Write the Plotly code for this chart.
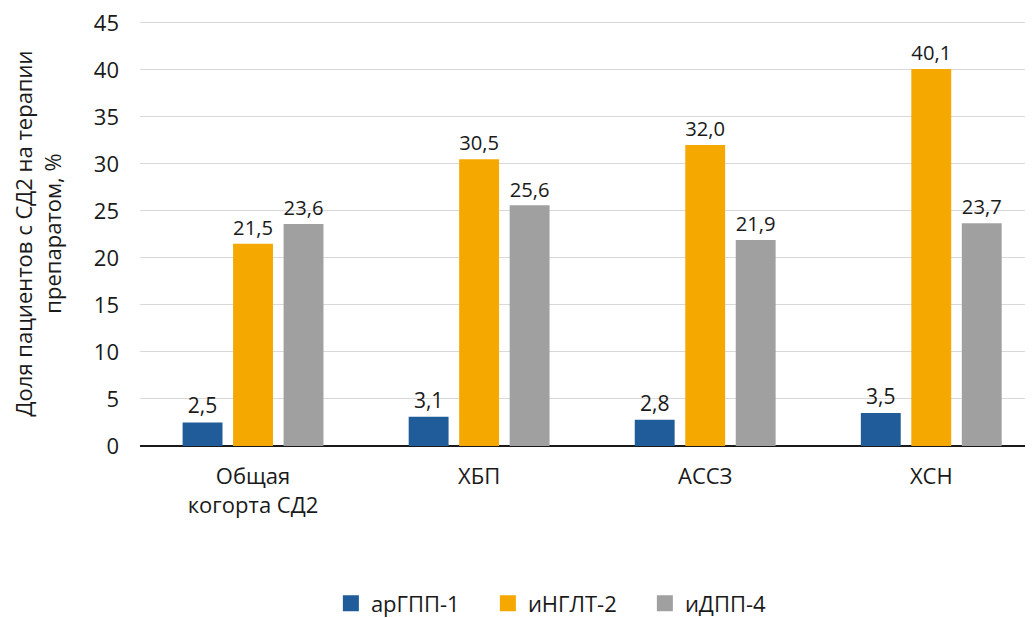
import plotly.graph_objects as go

categories = ["Общая<br>когорта СД2", "ХБП", "АССЗ", "ХСН"]
series_names = ["арГПП-1", "иНГЛТ-2", "иДПП-4"]
argpp1 = [2.5, 3.1, 2.8, 3.5]
ingl2 = [21.5, 30.5, 32.0, 40.1]
idpp4 = [23.6, 25.6, 21.9, 23.7]
colors = ["#1f5c99", "#f5a800", "#a0a0a0"]
y_ticks = [0, 5, 10, 15, 20, 25, 30, 35, 40, 45]

FONT = "Open Sans"
fig = go.Figure()
for name, vals, col in zip(series_names, [argpp1, ingl2, idpp4], colors):
    fig.add_trace(go.Bar(
        x=list(range(len(categories))), y=vals, name=name, marker_color=col,
        marker_line_width=0, showlegend=False,
        text=[f"{v:.1f}".replace(".", ",") for v in vals],
        textposition="outside", cliponaxis=False,
        textfont=dict(family=FONT, size=21, color="#1a1a1a"),
    ))
for name, col in zip(series_names, colors):
    fig.add_trace(go.Scatter(
        x=[None], y=[None], mode="markers", name=name,
        marker=dict(symbol="square", size=22, color=col),
    ))

fig.update_layout(
    width=1025, height=610,
    margin=dict(l=132, r=0, t=13, b=172, autoexpand=False),
    paper_bgcolor="white", plot_bgcolor="white",
    barmode="group", bargap=0.33, bargroupgap=0.21,
    font=dict(family=FONT, size=22, color="#1a1a1a"),
    legend=dict(orientation="h", x=0.315, xanchor="left", y=0.024, yanchor="middle",
                yref="container", xref="container", entrywidth=112,
                font=dict(family=FONT, size=22), itemsizing="trace",
                traceorder="normal"),
    showlegend=True,
)
fig.update_xaxes(
    tickmode="array", tickvals=list(range(len(categories))), ticktext=categories,
    range=[-0.5, 3.45], showgrid=False, showline=False, ticks="",
    tickfont=dict(family=FONT, size=22), automargin=False, ticklabelstandoff=15,
)
fig.update_yaxes(
    range=[0, 45.2], tickvals=y_ticks, showgrid=True, gridcolor="#d9d9d9", gridwidth=1,
    zeroline=True, zerolinecolor="#1a1a1a", zerolinewidth=2,
    ticks="", ticklabelstandoff=20, automargin=False, ticklabeloverflow="allow",
    tickfont=dict(family=FONT, size=22),
    title=dict(text="Доля пациентов с СД2 на терапии<br>препаратом, %",
               font=dict(family=FONT, size=22), standoff=30),
)
fig.write_html("out.html")
